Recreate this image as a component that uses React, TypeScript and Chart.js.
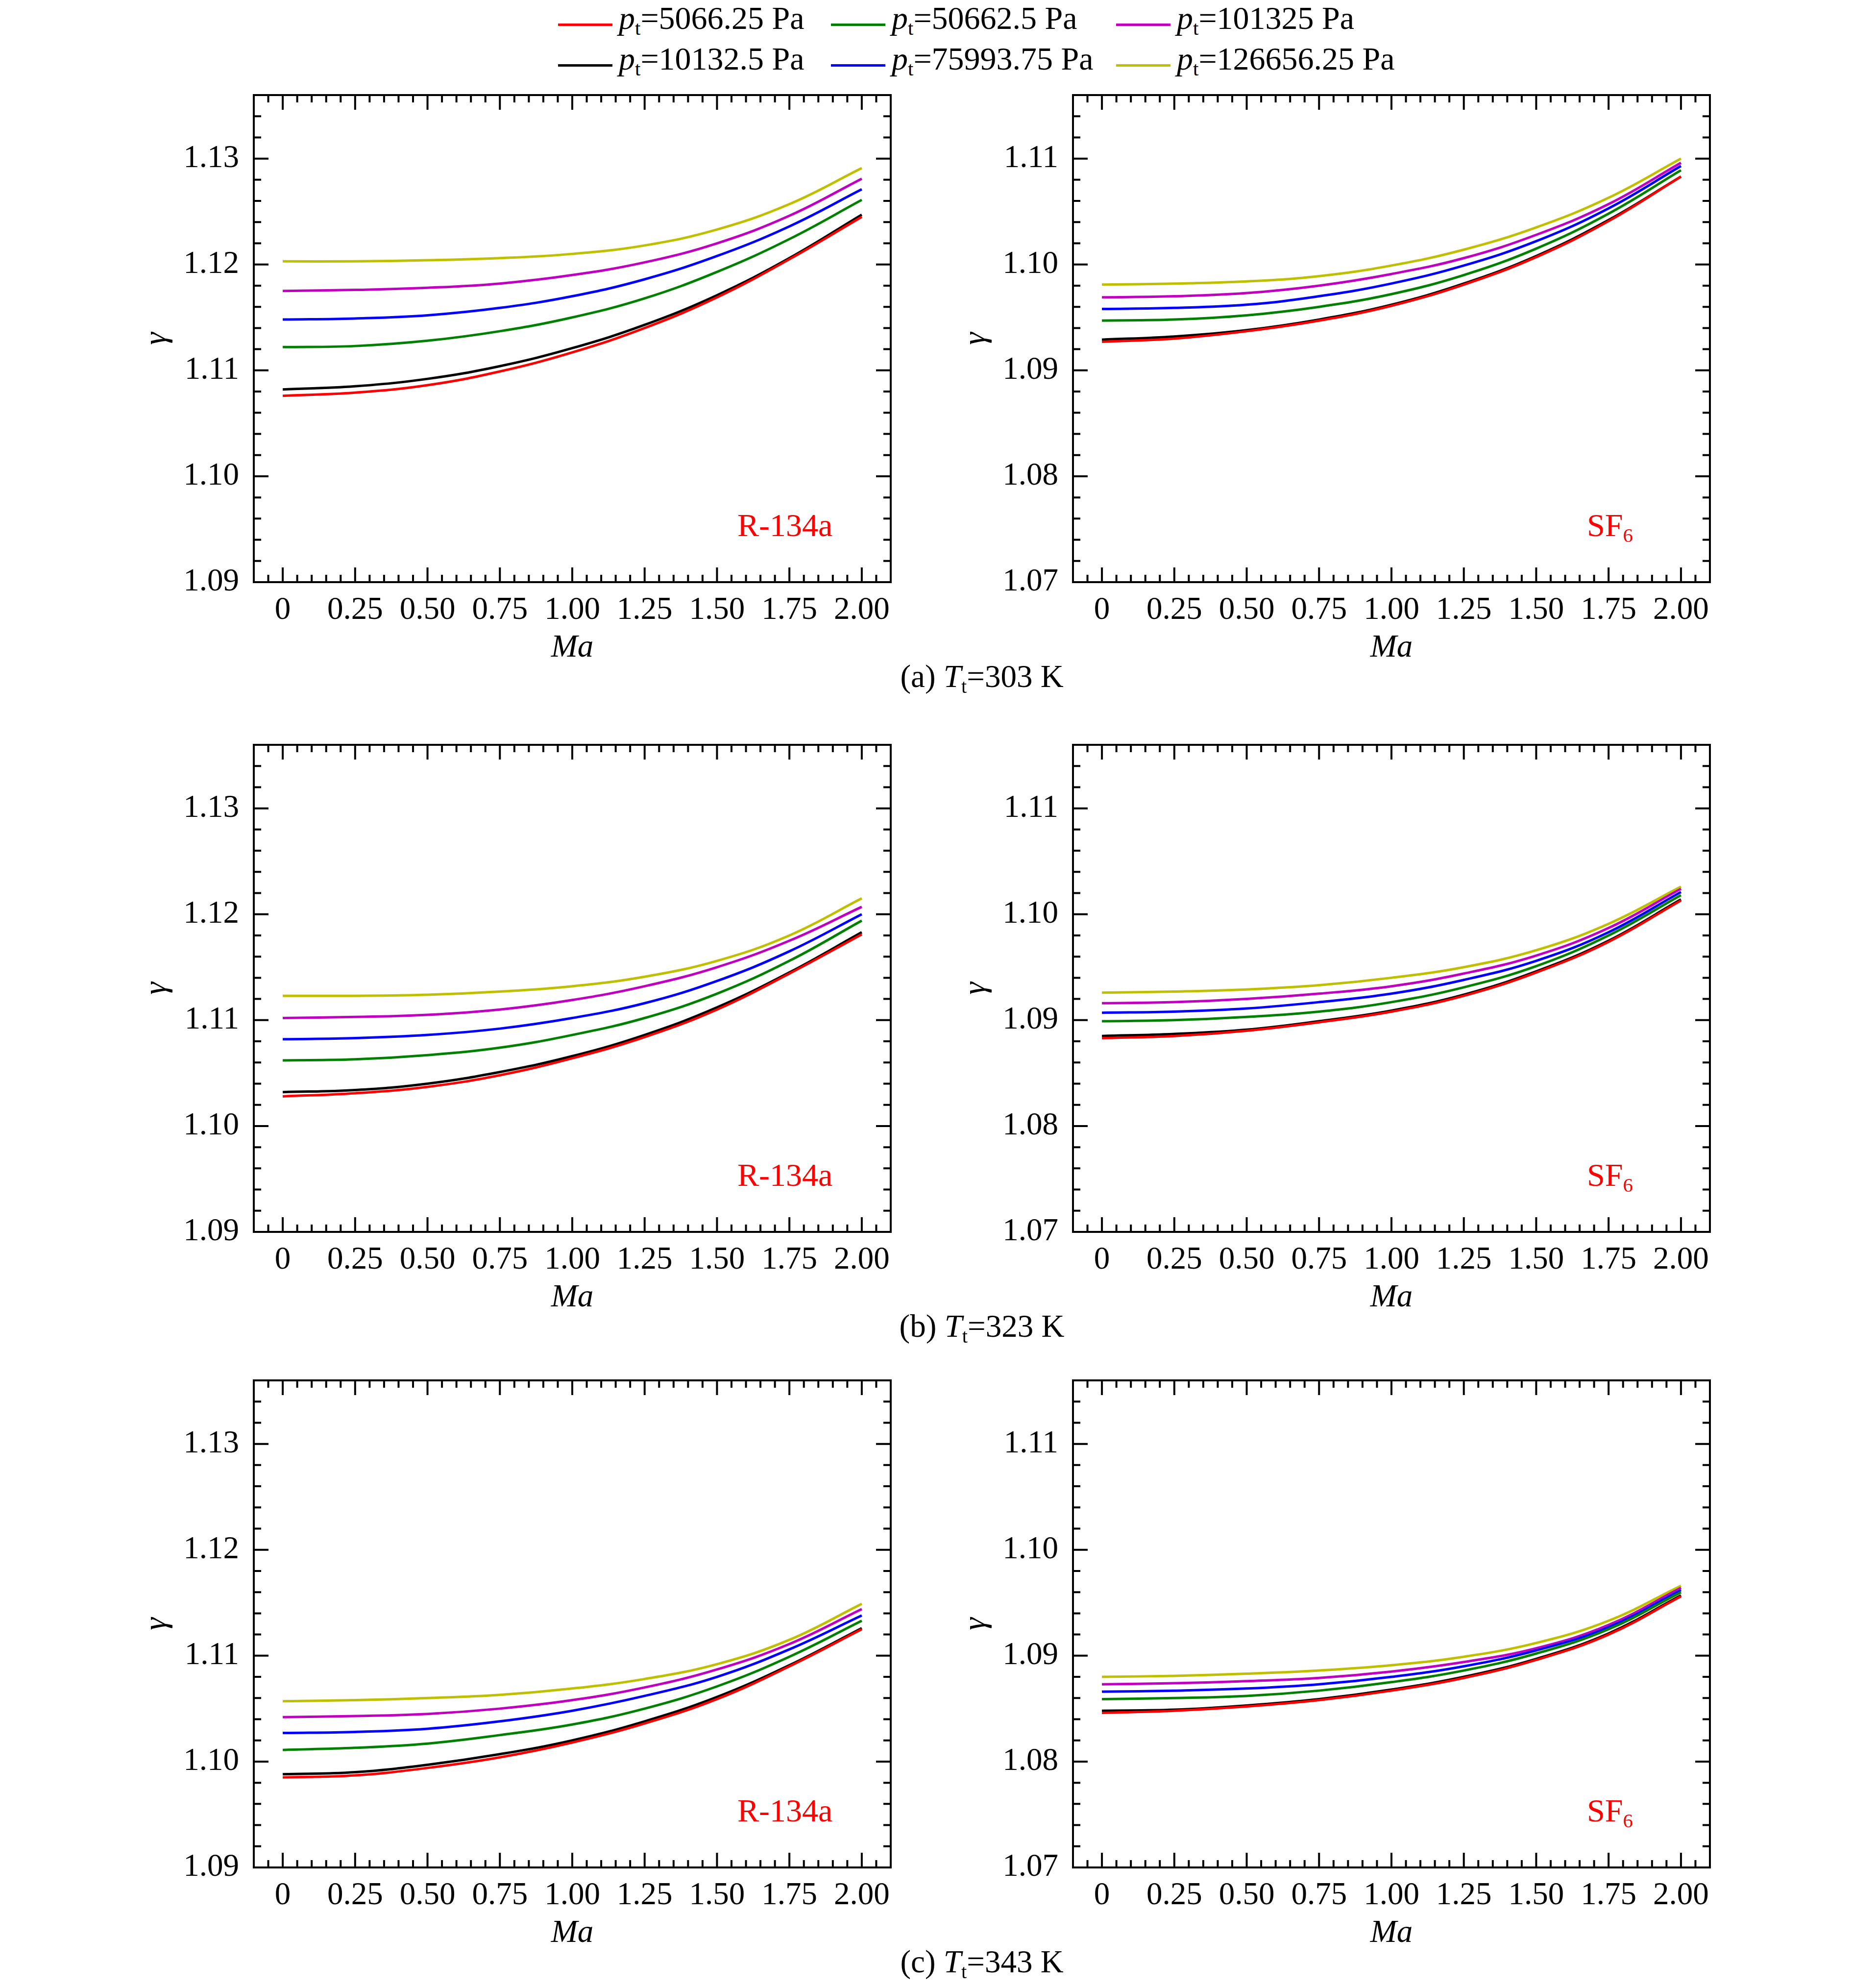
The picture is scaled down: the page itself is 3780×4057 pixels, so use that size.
import { useEffect, useRef } from "react";
import { Chart, registerables, type Plugin } from "chart.js";

Chart.register(...registerables);

const FONT = '"Liberation Serif", "Times New Roman", serif';
const FONT_SIZE = 65;
const LEGEND_FONT_SIZE = 66;

// Mach number samples shared by every curve
const MA = [0, 0.25, 0.5, 0.75, 1.0, 1.25, 1.5, 1.75, 2.0];

// total pressure of each curve (legend order) and its colour
const PRESSURES = ["5066.25", "10132.5", "50662.5", "75993.75", "101325", "126656.25"];
const COLORS = ["#ff0000", "#000000", "#008000", "#0000ff", "#bf00bf", "#bfbf00"];

const X_TICKS = [0, 0.25, 0.5, 0.75, 1.0, 1.25, 1.5, 1.75, 2.0];
const Y_TICKS_R134A = [1.09, 1.1, 1.11, 1.12, 1.13];
const Y_TICKS_SF6 = [1.07, 1.08, 1.09, 1.1, 1.11];
const X_RANGE = [-0.1, 2.1];
const Y_RANGE_R134A = [1.09, 1.136];
const Y_RANGE_SF6 = [1.07, 1.116];

// gamma vs Ma, one row per pressure (same order as PRESSURES)
const R134A_303K = [
  [1.1076, 1.1079, 1.1086, 1.1099, 1.1117, 1.114, 1.1169, 1.1205, 1.1245],
  [1.1082, 1.1085, 1.1092, 1.1104, 1.1121, 1.1143, 1.1171, 1.1206, 1.1247],
  [1.1122, 1.1123, 1.1128, 1.1137, 1.115, 1.1168, 1.1193, 1.1224, 1.1261],
  [1.1148, 1.1149, 1.1152, 1.1159, 1.117, 1.1186, 1.1208, 1.1236, 1.1271],
  [1.1175, 1.1176, 1.1178, 1.1182, 1.119, 1.1202, 1.122, 1.1246, 1.1281],
  [1.1203, 1.1203, 1.1204, 1.1206, 1.121, 1.1218, 1.1233, 1.1257, 1.1291],
];
const SF6_303K = [
  [1.0927, 1.093, 1.0937, 1.0947, 1.0961, 1.0981, 1.1007, 1.1041, 1.1083],
  [1.0929, 1.0932, 1.0938, 1.0948, 1.0962, 1.0982, 1.1008, 1.1042, 1.1083],
  [1.0947, 1.0948, 1.0952, 1.096, 1.0972, 1.099, 1.1015, 1.1048, 1.1089],
  [1.0958, 1.0959, 1.0962, 1.097, 1.0982, 1.0999, 1.1022, 1.1053, 1.1093],
  [1.0969, 1.097, 1.0973, 1.098, 1.0991, 1.1006, 1.1028, 1.1057, 1.1096],
  [1.0981, 1.0982, 1.0984, 1.0989, 1.0999, 1.1014, 1.1035, 1.1063, 1.11],
];
const R134A_323K = [
  [1.1028, 1.1031, 1.1037, 1.1048, 1.1064, 1.1084, 1.111, 1.1144, 1.1181],
  [1.1032, 1.1034, 1.104, 1.1051, 1.1066, 1.1086, 1.1112, 1.1145, 1.1183],
  [1.1062, 1.1063, 1.1067, 1.1074, 1.1086, 1.1102, 1.1125, 1.1156, 1.1194],
  [1.1082, 1.1083, 1.1086, 1.1092, 1.1102, 1.1116, 1.1137, 1.1165, 1.12],
  [1.1102, 1.1103, 1.1105, 1.111, 1.1119, 1.1132, 1.115, 1.1175, 1.1207],
  [1.1123, 1.1123, 1.1124, 1.1127, 1.1132, 1.1141, 1.1156, 1.118, 1.1215],
];
const SF6_323K = [
  [1.0883, 1.0885, 1.089, 1.0898, 1.0908, 1.0923, 1.0945, 1.0974, 1.1013],
  [1.0885, 1.0887, 1.0891, 1.0899, 1.0909, 1.0924, 1.0946, 1.0975, 1.1014],
  [1.0899, 1.09, 1.0903, 1.0908, 1.0917, 1.0931, 1.0951, 1.098, 1.1018],
  [1.0907, 1.0908, 1.0911, 1.0917, 1.0925, 1.0938, 1.0956, 1.0983, 1.1021],
  [1.0916, 1.0917, 1.092, 1.0925, 1.0932, 1.0944, 1.0961, 1.0987, 1.1024],
  [1.0926, 1.0927, 1.0929, 1.0933, 1.094, 1.095, 1.0966, 1.0991, 1.1026],
];
const R134A_343K = [
  [1.0985, 1.0987, 1.0994, 1.1004, 1.1018, 1.1036, 1.1059, 1.109, 1.1125],
  [1.0988, 1.099, 1.0997, 1.1007, 1.102, 1.1038, 1.1061, 1.1091, 1.1126],
  [1.1011, 1.1013, 1.1017, 1.1025, 1.1035, 1.105, 1.1071, 1.1099, 1.1133],
  [1.1027, 1.1028, 1.1031, 1.1038, 1.1048, 1.1062, 1.108, 1.1106, 1.1138],
  [1.1042, 1.1043, 1.1045, 1.105, 1.1058, 1.107, 1.1087, 1.1111, 1.1144],
  [1.1057, 1.1058, 1.106, 1.1063, 1.1069, 1.1078, 1.1092, 1.1115, 1.1149],
];
const SF6_343K = [
  [1.0846, 1.0848, 1.0852, 1.0858, 1.0867, 1.0879, 1.0896, 1.092, 1.0956],
  [1.0848, 1.0849, 1.0853, 1.0859, 1.0868, 1.088, 1.0897, 1.0921, 1.0957],
  [1.0859, 1.086, 1.0862, 1.0867, 1.0875, 1.0886, 1.0902, 1.0925, 1.096],
  [1.0866, 1.0867, 1.0869, 1.0873, 1.088, 1.089, 1.0905, 1.0927, 1.0962],
  [1.0873, 1.0874, 1.0876, 1.0879, 1.0885, 1.0894, 1.0907, 1.0929, 1.0964],
  [1.088, 1.0881, 1.0883, 1.0886, 1.0891, 1.0899, 1.0912, 1.0933, 1.0966],
];

const TEMPS = [303, 323, 343];
const LETTERS = ["a", "b", "c"];
const ROWS = [
  [R134A_303K, SF6_303K],
  [R134A_323K, SF6_323K],
  [R134A_343K, SF6_343K],
];

// page geometry (px)
const PLOT_LEFT = [518, 2190];
const PLOT_TOP = [194, 1520, 2817];
const PLOT_W = 1300;
const PLOT_H = 994;
const Y_AXIS_W = 300;
const X_AXIS_H = 200;
const PAD_T = 40;
const PAD_R = 40;

function minorTicks(min: number, max: number, step: number, majors: number[]) {
  const out: number[] = [];
  const n = Math.round((max - min) / step);
  for (let i = 1; i < n; i++) {
    const v = +(min + i * step).toFixed(4);
    if (!majors.some((m) => Math.abs(m - v) < step / 10)) out.push(v);
  }
  return out;
}

// inward ticks on all four sides plus the frame, like the original figure
function frameTicks(xMinor: number[], yMajor: number[], yMinor: number[]): Plugin {
  return {
    id: "frameTicks",
    afterDraw(chart) {
      const { ctx, chartArea: a, scales } = chart;
      const xs = scales.x;
      const ys = scales.y;
      ctx.save();
      ctx.strokeStyle = "#000";
      ctx.lineWidth = 4;
      ctx.lineCap = "butt";
      ctx.beginPath();
      const tick = (x1: number, y1: number, x2: number, y2: number) => {
        ctx.moveTo(x1, y1);
        ctx.lineTo(x2, y2);
      };
      X_TICKS.forEach((v) => {
        const px = xs.getPixelForValue(v);
        tick(px, a.bottom, px, a.bottom - 30);
        tick(px, a.top, px, a.top + 30);
      });
      xMinor.forEach((v) => {
        const px = xs.getPixelForValue(v);
        tick(px, a.bottom, px, a.bottom - 15);
        tick(px, a.top, px, a.top + 15);
      });
      yMajor.forEach((v) => {
        const py = ys.getPixelForValue(v);
        tick(a.left, py, a.left + 30, py);
        tick(a.right, py, a.right - 30, py);
      });
      yMinor.forEach((v) => {
        const py = ys.getPixelForValue(v);
        tick(a.left, py, a.left + 15, py);
        tick(a.right, py, a.right - 15, py);
      });
      ctx.stroke();
      ctx.strokeRect(a.left, a.top, a.right - a.left, a.bottom - a.top);
      ctx.restore();
    },
  };
}

function Panel({ series, gas, left, top }: { series: number[][]; gas: string; left: number; top: number }) {
  const ref = useRef<HTMLCanvasElement>(null);
  const w = Y_AXIS_W + PLOT_W + PAD_R;
  const h = PAD_T + PLOT_H + X_AXIS_H;

  useEffect(() => {
    const canvas = ref.current;
    if (!canvas) return;
    const isR = gas === "R-134a";
    const yTicks = isR ? Y_TICKS_R134A : Y_TICKS_SF6;
    const [yMin, yMax] = isR ? Y_RANGE_R134A : Y_RANGE_SF6;
    const tickFont = { family: FONT, size: FONT_SIZE };
    const chart = new Chart(canvas, {
      type: "line",
      data: {
        datasets: series.map((vals, i) => ({
          label: `pt=${PRESSURES[i]} Pa`,
          data: MA.map((x, j) => ({ x, y: vals[j] })),
          borderColor: COLORS[i],
          backgroundColor: COLORS[i],
          borderWidth: 5,
          pointRadius: 0,
          tension: 0.4,
          fill: false,
        })),
      },
      options: {
        animation: false,
        responsive: false,
        devicePixelRatio: 1,
        layout: { padding: { top: PAD_T, right: PAD_R, left: 0, bottom: 0 } },
        plugins: { legend: { display: false }, tooltip: { enabled: false } },
        scales: {
          x: {
            type: "linear",
            min: X_RANGE[0],
            max: X_RANGE[1],
            grid: { display: false, drawTicks: false },
            border: { display: false },
            afterBuildTicks: (s: any) => {
              s.ticks = X_TICKS.map((v) => ({ value: v }));
            },
            afterFit: (s: any) => {
              s.height = X_AXIS_H;
              s.paddingLeft = 0;
              s.paddingRight = 0;
            },
            ticks: {
              font: tickFont,
              color: "#000",
              padding: 19,
              maxRotation: 0,
              autoSkip: false,
              callback: (v: any) => (Number(v) === 0 ? "0" : Number(v).toFixed(2)),
            },
            title: {
              display: true,
              text: "Ma",
              color: "#000",
              font: { family: FONT, size: FONT_SIZE, style: "italic" },
              padding: { top: 0, bottom: 26 },
            },
          },
          y: {
            type: "linear",
            min: yMin,
            max: yMax,
            grid: { display: false, drawTicks: false },
            border: { display: false },
            afterBuildTicks: (s: any) => {
              s.ticks = yTicks.map((v) => ({ value: v }));
            },
            afterFit: (s: any) => {
              s.width = Y_AXIS_W;
              s.paddingTop = 0;
              s.paddingBottom = 0;
            },
            ticks: {
              font: tickFont,
              color: "#000",
              padding: 30,
              autoSkip: false,
              callback: (v: any) => Number(v).toFixed(2),
            },
            title: {
              display: true,
              text: "γ",
              color: "#000",
              font: { family: FONT, size: FONT_SIZE, style: "italic" },
              padding: { top: 64, bottom: 0 },
            },
          },
        },
      },
      plugins: [
        frameTicks(
          minorTicks(X_RANGE[0], X_RANGE[1], 0.05, X_TICKS),
          yTicks,
          minorTicks(yMin, yMax, 0.002, yTicks),
        ),
      ],
    });
    return () => chart.destroy();
  }, [series, gas]);

  return (
    <canvas
      ref={ref}
      width={w}
      height={h}
      style={{ position: "absolute", left: left - Y_AXIS_W, top: top - PAD_T, width: w, height: h }}
    />
  );
}

const sub = { fontSize: "0.62em", verticalAlign: "-0.3em", lineHeight: 0, fontStyle: "normal" } as const;

function Text({ x, y, children, color = "#000", anchor = "center", size = FONT_SIZE }: any) {
  return (
    <div
      style={{
        position: "absolute",
        left: x,
        top: y,
        transform: anchor === "center" ? "translate(-50%, -50%)" : "translate(0, -50%)",
        whiteSpace: "nowrap",
        lineHeight: 1,
        fontFamily: FONT,
        fontSize: size,
        color,
      }}
    >
      {children}
    </div>
  );
}

const LEGEND_X = [1139, 1696, 2278];
const LEGEND_Y = [37, 120];

export default function App() {
  useEffect(() => {
    document.body.style.margin = "0";
  }, []);

  const figCenter = (PLOT_LEFT[0] + PLOT_LEFT[1] + PLOT_W) / 2;

  return (
    <div style={{ position: "relative", width: 3780, height: 4057, background: "#fff", overflow: "hidden" }}>
      {PRESSURES.map((p, i) => (
        <div
          key={p}
          style={{
            position: "absolute",
            left: LEGEND_X[Math.floor(i / 2)],
            top: LEGEND_Y[i % 2],
            transform: "translateY(-50%)",
            display: "flex",
            alignItems: "center",
            whiteSpace: "nowrap",
            fontFamily: FONT,
            fontSize: LEGEND_FONT_SIZE,
            lineHeight: 1,
          }}
        >
          <span
            style={{
              display: "inline-block",
              width: 111,
              height: 5,
              background: COLORS[i],
              marginRight: 13,
              position: "relative",
              top: 13,
            }}
          />
          <span>
            <i>p</i>
            <span style={sub}>t</span>={p} Pa
          </span>
        </div>
      ))}

      {ROWS.map((row, r) => (
        <div key={r}>
          {row.map((series, c) => (
            <Panel
              key={c}
              series={series}
              gas={c === 0 ? "R-134a" : "SF6"}
              left={PLOT_LEFT[c]}
              top={PLOT_TOP[r]}
            />
          ))}
          <Text x={PLOT_LEFT[0] + 987} y={PLOT_TOP[r] + 878} color="#ff0000" anchor="left" size={66}>
            R-134a
          </Text>
          <Text x={PLOT_LEFT[1] + 1049} y={PLOT_TOP[r] + 878} color="#ff0000" anchor="left" size={66}>
            SF<span style={sub}>6</span>
          </Text>
          <Text x={figCenter} y={PLOT_TOP[r] + PLOT_H + 192}>
            ({LETTERS[r]}) <i>T</i>
            <span style={sub}>t</span>={TEMPS[r]} K
          </Text>
        </div>
      ))}
    </div>
  );
}
